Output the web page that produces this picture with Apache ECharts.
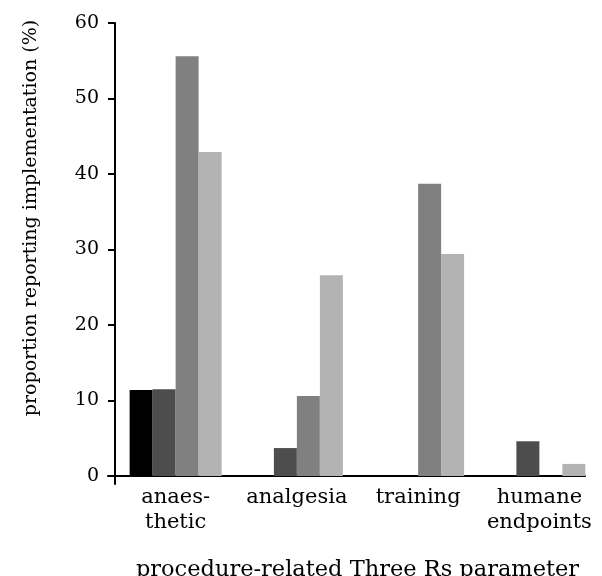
<!DOCTYPE html>
<html><head><meta charset="utf-8">
<script src="https://cdn.jsdelivr.net/npm/echarts@6/dist/echarts.min.js"></script>
<style>html,body{margin:0;padding:0;background:#fff}#c{width:602px;height:576px}</style>
</head><body><div id="c"></div>
<script>
const categories = ['anaes-\nthetic', 'analgesia', 'training', 'humane\nendpoints'];
const series1 = [11.4, 0, 0, 0];
const series2 = [11.5, 3.7, 0, 4.6];
const series3 = [55.6, 10.6, 38.7, 0];
const series4 = [42.9, 26.6, 29.4, 1.6];
const yTicks = [0, 10, 20, 30, 40, 50, 60];
const colors = ['#000000', '#4d4d4d', '#808080', '#b3b3b3'];
const font = '"DejaVu Serif", serif';

const chart = echarts.init(document.getElementById('c'));
const data = [series1, series2, series3, series4];
chart.setOption({
  animation: false,
  backgroundColor: '#fff',
  grid: [
    {left: 115, right: 2, top: 23, bottom: 100, outerBoundsMode: 'none', containLabel: false},
    {left: 108, right: 17, top: 23, bottom: 100, outerBoundsMode: 'none', containLabel: false},
    {left: 115, right: 2, top: 23, bottom: 92, outerBoundsMode: 'none', containLabel: false}
  ],
  xAxis: [
    {type: 'category', gridIndex: 0, data: categories,
     axisLine: {show: false}, axisTick: {show: false},
     axisLabel: {interval: 0, fontFamily: font, fontSize: 21, color: '#000', margin: 9, lineHeight: 25},
     name: 'procedure-related Three Rs parameter', nameLocation: 'middle', nameGap: 83,
     nameTextStyle: {fontFamily: font, fontSize: 22.5, color: '#000'}},
    {type: 'value', gridIndex: 1, min: 0, max: 1, axisLine: {show: true, lineStyle: {color: '#000', width: 2}},
     axisTick: {show: false}, axisLabel: {show: false}, splitLine: {show: false}},
    {type: 'value', gridIndex: 2, min: 0, max: 1, show: false}
  ],
  yAxis: [
    {type: 'value', gridIndex: 0, min: yTicks[0], max: yTicks[yTicks.length - 1], interval: 10,
     axisLine: {show: false}, axisTick: {show: true, length: 7, lineStyle: {color: '#000', width: 2}},
     axisLabel: {fontFamily: font, fontSize: 19, color: '#000', margin: 16},
     splitLine: {show: false}},
    {type: 'value', gridIndex: 1, show: false},
    {type: 'value', gridIndex: 2, min: 0, max: 1, axisLine: {show: true, lineStyle: {color: '#000', width: 2}},
     axisTick: {show: false}, axisLabel: {show: false}, splitLine: {show: false}}
  ],
  graphic: [{
    type: 'text', rotation: Math.PI / 2,
    x: 31, y: 218,
    style: {text: 'proportion reporting implementation (%)', font: '19px ' + font, fill: '#000',
            textAlign: 'center', textVerticalAlign: 'middle'}
  }],
  series: data.map((d, i) => ({
    type: 'bar', xAxisIndex: 0, yAxisIndex: 0, data: d, barWidth: 23, barGap: '0%',
    itemStyle: {color: colors[i]}
  }))
});
</script></body></html>
